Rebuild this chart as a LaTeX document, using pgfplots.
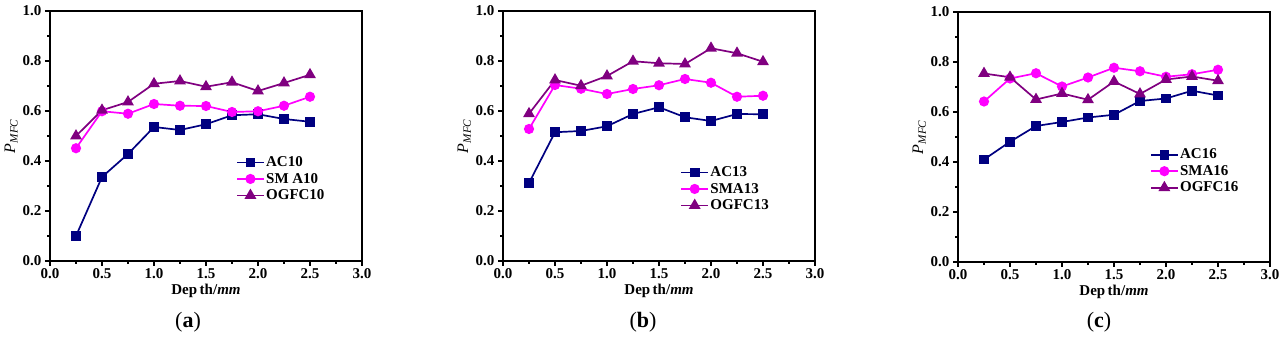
\documentclass[border=0pt]{standalone}
\usepackage{fontspec}
\setmainfont{Liberation Serif}
\usepackage{pgfplots}
\pgfplotsset{compat=1.18}
\definecolor{cNavy}{HTML}{000080}
\definecolor{cMag}{HTML}{FF00FF}
\definecolor{cPur}{HTML}{800080}
\pgfplotsset{
  panel/.style={
    scale only axis, width=312pt, height=250pt, anchor=south west,
    xmin=0, xmax=3, ymin=0, ymax=1,
    xtick={0,0.5,1,1.5,2,2.5,3}, ytick={0,0.2,0.4,0.6,0.8,1},
    minor x tick num=1, minor y tick num=1,
    tick pos=left, tick align=outside,
    major tick length=5pt, minor tick length=3pt,
    axis line style={line width=1.8pt},
    every tick/.style={line width=1.5pt, black},
    /pgf/number format/assume math mode=true,
    /pgf/number format/.cd, fixed, fixed zerofill, precision=1, /pgfplots/.cd,
    tick label style={font=\fontsize{15}{15}\selectfont\bfseries},
    xticklabel style={yshift=1pt},
    xlabel={\textbf{Dep\,th/\textit{mm}}},
    xlabel style={font=\fontsize{15}{15}\selectfont, yshift=1.5pt},
    ylabel={\textit{P}\textsubscript{\textit{MFC}}},
    ylabel style={font=\fontsize{16}{16}\selectfont, yshift=-2pt},
    legend cell align=left,
    legend style={draw=none, fill=none, font=\fontsize{15}{15}\selectfont\bfseries,
      row sep=1pt, inner sep=1pt,
      nodes={text height=10.5pt, text depth=2pt, inner sep=1.5pt}},
    legend image code/.code={\draw[mark repeat=2,mark phase=2] plot coordinates {(0cm,0cm) (0.47cm,0cm) (0.94cm,0cm)};},
  },
  sA/.style={cNavy, line width=1.7pt, mark=square*, mark size=4pt, mark options={solid}},
  sB/.style={cMag, line width=1.7pt, mark=*, mark size=4.2pt},
  sC/.style={cPur, line width=1.7pt, mark=triangle*, mark size=5.2pt},
}
\begin{document}
\begin{tikzpicture}
\path[use as bounding box] (0,0) rectangle (1287pt,342pt);
% ---------- (a)
\begin{axis}[panel, at={(50pt,81pt)},
  legend style={at={(rel axis cs:0.593,0.43)}, anchor=north west}]
\addplot[sA] coordinates {(0.25,0.10) (0.5,0.336) (0.75,0.428) (1.0,0.536) (1.25,0.524) (1.5,0.547) (1.75,0.583) (2.0,0.587) (2.25,0.568) (2.5,0.557)};
\addplot[sB] coordinates {(0.25,0.451) (0.5,0.599) (0.75,0.589) (1.0,0.628) (1.25,0.621) (1.5,0.620) (1.75,0.596) (2.0,0.599) (2.25,0.621) (2.5,0.657)};
\addplot[sC] coordinates {(0.25,0.50) (0.5,0.603) (0.75,0.636) (1.0,0.709) (1.25,0.720) (1.5,0.697) (1.75,0.715) (2.0,0.680) (2.25,0.712) (2.5,0.745)};
\legend{AC10, SM A10, OGFC10}
\end{axis}
% ---------- (b)
\begin{axis}[panel, at={(503pt,81pt)},
  legend style={at={(rel axis cs:0.565,0.39)}, anchor=north west}]
\addplot[sA] coordinates {(0.25,0.312) (0.5,0.515) (0.75,0.520) (1.0,0.539) (1.25,0.588) (1.5,0.615) (1.75,0.575) (2.0,0.560) (2.25,0.588) (2.5,0.587)};
\addplot[sB] coordinates {(0.25,0.528) (0.5,0.704) (0.75,0.689) (1.0,0.668) (1.25,0.688) (1.5,0.703) (1.75,0.728) (2.0,0.713) (2.25,0.657) (2.5,0.661)};
\addplot[sC] coordinates {(0.25,0.589) (0.5,0.724) (0.75,0.701) (1.0,0.740) (1.25,0.799) (1.5,0.791) (1.75,0.788) (2.0,0.851) (2.25,0.831) (2.5,0.797)};
\legend{AC13, SMA13, OGFC13}
\end{axis}
% ---------- (c)
\begin{axis}[panel, at={(958pt,80pt)},
  legend style={at={(rel axis cs:0.612,0.465)}, anchor=north west}]
\addplot[sA] coordinates {(0.25,0.410) (0.5,0.481) (0.75,0.544) (1.0,0.560) (1.25,0.578) (1.5,0.589) (1.75,0.644) (2.0,0.654) (2.25,0.685) (2.5,0.666)};
\addplot[sB] coordinates {(0.25,0.642) (0.5,0.734) (0.75,0.755) (1.0,0.702) (1.25,0.738) (1.5,0.777) (1.75,0.763) (2.0,0.741) (2.25,0.751) (2.5,0.769)};
\addplot[sC] coordinates {(0.25,0.754) (0.5,0.739) (0.75,0.650) (1.0,0.674) (1.25,0.649) (1.5,0.722) (1.75,0.672) (2.0,0.730) (2.25,0.742) (2.5,0.725)};
\legend{AC16, SMA16, OGFC16}
\end{axis}
\node[font=\fontsize{22}{22}\selectfont] at (188pt,20pt) {(\textbf{a})};
\node[font=\fontsize{22}{22}\selectfont] at (643pt,20pt) {(\textbf{b})};
\node[font=\fontsize{22}{22}\selectfont] at (1099pt,20pt) {(\textbf{c})};
\end{tikzpicture}
\end{document}
